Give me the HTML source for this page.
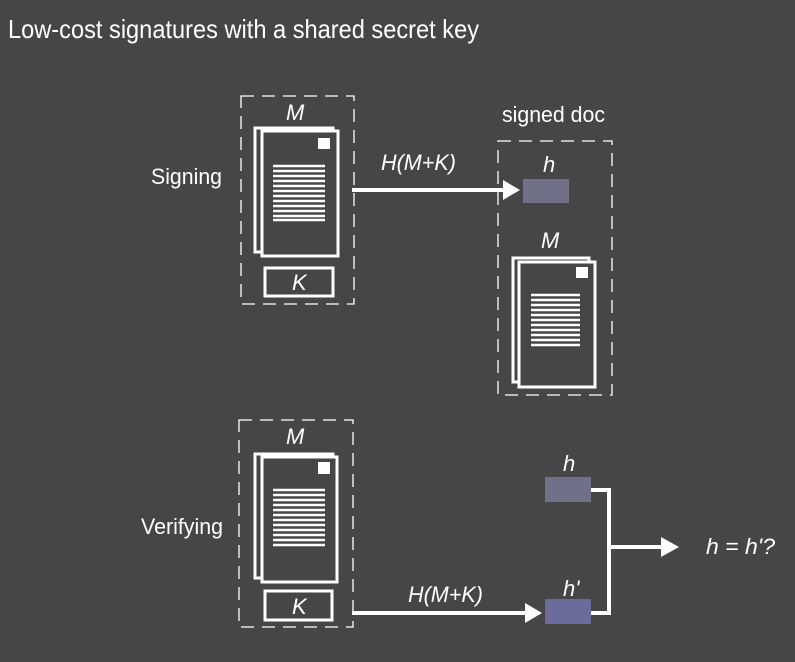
<!DOCTYPE html>
<html><head><meta charset="utf-8"><style>
html,body{margin:0;padding:0;background:#464646;}
svg{display:block}
text{font-family:"Liberation Sans Narrow","Liberation Sans",sans-serif;fill:#fff;}
</style></head><body>
<svg width="795" height="662" viewBox="0 0 795 662" xmlns="http://www.w3.org/2000/svg">
<rect width="795" height="662" fill="#464646"/>
<text x="8" y="38" font-size="26" textLength="471" lengthAdjust="spacingAndGlyphs">Low-cost signatures with a shared secret key</text>

<g fill="none" stroke="#fff" stroke-width="1.3" stroke-dasharray="13,8">
<rect x="241" y="96" width="113" height="208"/>
<rect x="498" y="141" width="114" height="254"/>
<rect x="239" y="420" width="114" height="207"/>
</g>

<g fill="none" stroke="#fff" stroke-width="3">
<rect x="255" y="128" width="78" height="124"/>
<rect x="262" y="131" width="76" height="125" fill="#464646"/>
<rect x="265" y="268" width="68" height="28"/>
<rect x="513" y="258" width="76" height="124"/>
<rect x="519" y="262" width="76" height="125" fill="#464646"/>
<rect x="255" y="454" width="78" height="124"/>
<rect x="262" y="457" width="75" height="125" fill="#464646"/>
<rect x="265" y="591" width="67" height="29"/>
</g>
<g fill="#fff">
<rect x="318" y="138" width="12" height="11"/>
<rect x="576" y="267" width="12" height="11"/>
<rect x="318" y="462" width="12" height="12"/>
</g>
<g stroke="#fff" stroke-width="2.6">
<path d="M273 166H325M273 171H325M273 176H325M273 181H325M273 186H325M273 191H325M273 196H325M273 201H325M273 206H325M273 211H325M273 216H325M273 220H325"/>
<path d="M531 295H580M531 300H580M531 305H580M531 310H580M531 315H580M531 320H580M531 325H580M531 330H580M531 335H580M531 340H580M531 345H580"/>
<path d="M273 490H325M273 495H325M273 500H325M273 505H325M273 510H325M273 515H325M273 520H325M273 525H325M273 530H325M273 535H325M273 540H325M273 545H325"/>
</g>

<g stroke="#fff" stroke-width="4" fill="none">
<path d="M352 190H505"/>
<path d="M352 613H528"/>
<path d="M591 490H609V613H591"/>
<path d="M609 547H664"/>
</g>
<g fill="#fff">
<polygon points="503,180 520,190 503,200"/>
<polygon points="525,603 542,613 525,623"/>
<polygon points="661,537 679,547 661,557"/>
</g>

<rect x="523" y="179" width="46" height="24" fill="#707088"/>
<rect x="545" y="477" width="46" height="25" fill="#707088"/>
<rect x="545" y="599" width="46" height="25" fill="#6c6c9c"/>

<text x="151" y="184" font-size="22" textLength="71" lengthAdjust="spacingAndGlyphs">Signing</text>
<text x="141" y="534" font-size="22" textLength="82" lengthAdjust="spacingAndGlyphs">Verifying</text>
<text x="502" y="122" font-size="22" textLength="103" lengthAdjust="spacingAndGlyphs">signed doc</text>
<g font-size="22" font-style="italic">
<text x="286" y="120">M</text>
<text x="541" y="248">M</text>
<text x="286" y="444">M</text>
<text x="292" y="290">K</text>
<text x="292" y="614">K</text>
<text x="543" y="172">h</text>
<text x="563" y="471">h</text>
<text x="563" y="596">h'</text>
<text x="381" y="170" textLength="75" lengthAdjust="spacingAndGlyphs">H(M+K)</text>
<text x="408" y="602" textLength="75" lengthAdjust="spacingAndGlyphs">H(M+K)</text>
<text x="706" y="554" textLength="69" lengthAdjust="spacingAndGlyphs">h = h'?</text>
</g>
</svg>
</body></html>
